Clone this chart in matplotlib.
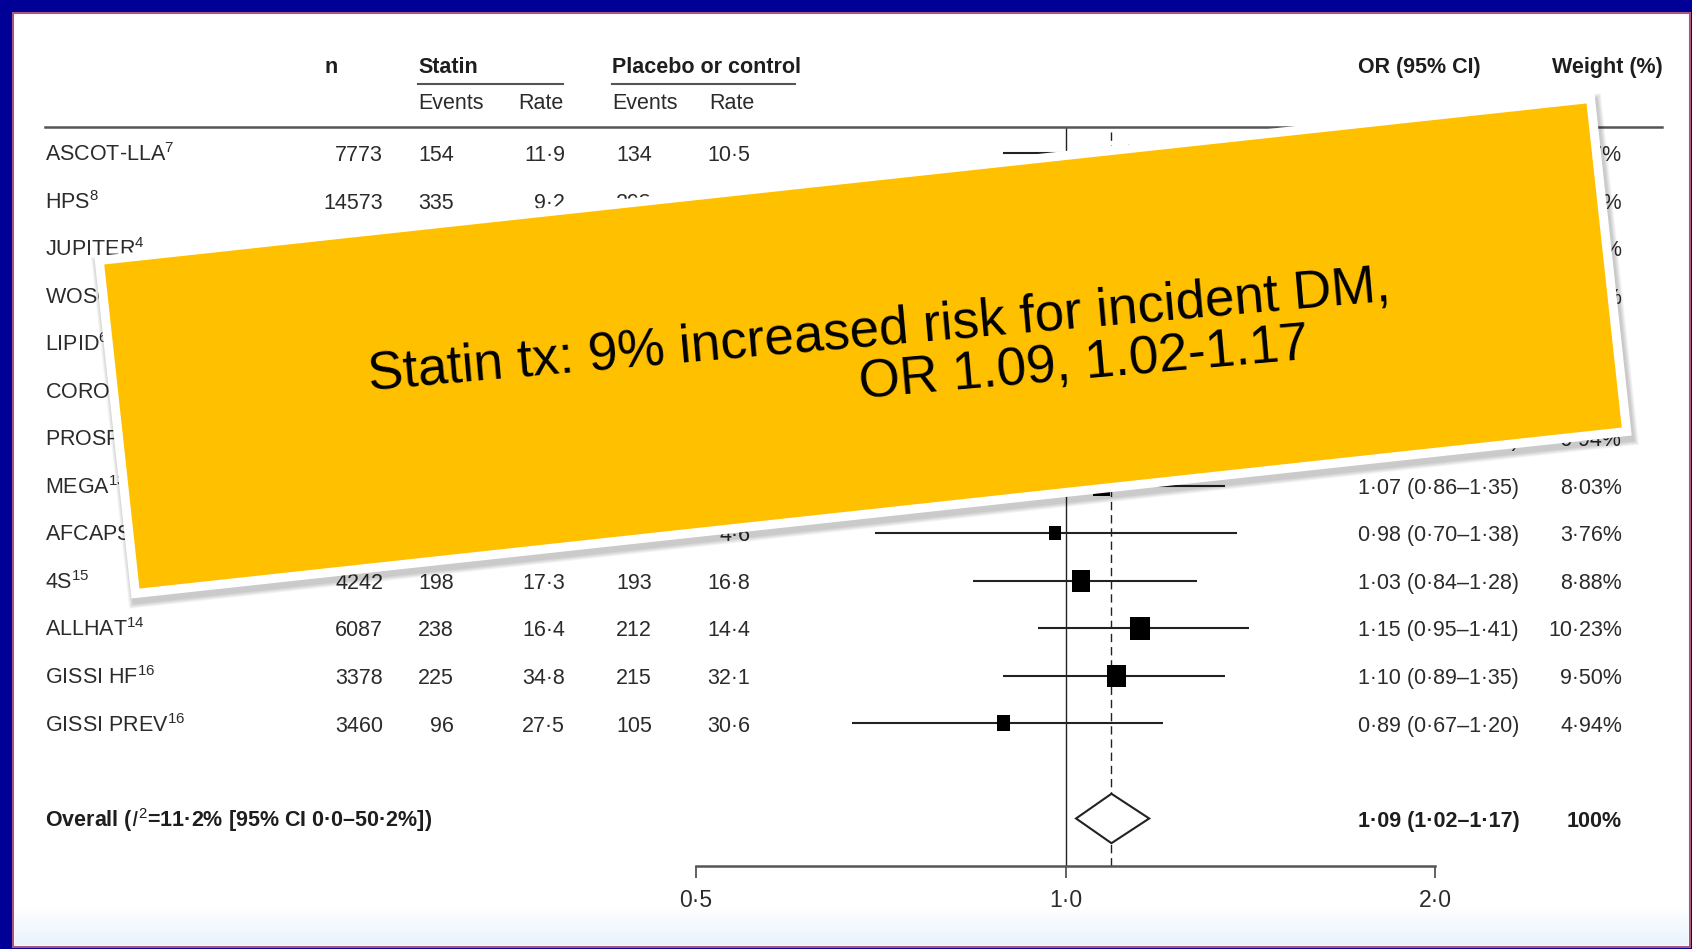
import numpy as np
import matplotlib
matplotlib.use("Agg")
import matplotlib.pyplot as plt
from matplotlib.patches import Rectangle, Polygon
from matplotlib import transforms

plt.rcParams['font.family'] = ['Liberation Sans', 'DejaVu Sans']
plt.rcParams['mathtext.fontset'] = 'custom'
plt.rcParams['mathtext.rm'] = 'Liberation Sans'
plt.rcParams['mathtext.it'] = 'Liberation Sans:italic'
plt.rcParams['mathtext.bf'] = 'Liberation Sans:bold'

# trial data
studies = ["ASCOT-LLA", "HPS", "JUPITER", "WOSCOPS", "LIPID", "CORONA", "PROSPER",
           "MEGA", "AFCAPS/TexCAPS", "4S", "ALLHAT", "GISSI HF", "GISSI PREV"]
refs = ["7", "8", "4", "5", "6", "9", "10", "13", "11", "15", "14", "16", "16"]
n_total = [7773, 14573, 17802, 5974, 6997, 3534, 5023, 6086, 6211, 4242, 6087, 3378, 3460]
statin_events = [154, 335, 270, 75, 126, 100, 165, 172, 72, 198, 238, 225, 96]
statin_rate = [11.9, 9.2, 16.0, 5.2, 7.9, 37.1, 20.5, 10.8, 4.5, 17.3, 16.4, 34.8, 27.5]
placebo_events = [134, 293, 216, 93, 138, 88, 127, 164, 74, 193, 212, 215, 105]
placebo_rate = [10.5, 8.0, 12.8, 6.5, 8.7, 33.0, 15.8, 10.1, 4.6, 16.8, 14.4, 32.1, 30.6]
odds_ratio = [1.14, 1.15, 1.26, 0.79, 0.91, 1.14, 1.32, 1.07, 0.98, 1.03, 1.15, 1.10, 0.89]
ci_low = [0.89, 0.98, 1.04, 0.58, 0.71, 0.84, 1.03, 0.86, 0.70, 0.84, 0.95, 0.89, 0.67]
ci_high = [1.46, 1.35, 1.51, 1.10, 1.17, 1.55, 1.69, 1.35, 1.38, 1.28, 1.41, 1.35, 1.20]
weights = [6.07, 14.33, 11.32, 4.36, 6.63, 5.01, 6.94, 8.03, 3.76, 8.88, 10.23, 9.50, 4.94]

overall_or, overall_lo, overall_hi = 1.09, 1.02, 1.17
i2, i2_lo, i2_hi = 11.2, 0.0, 50.2

x_ticks = [0.5, 1.0, 2.0]

W, H = 1692, 949
INK = '#2b2b2b'
FS = 15.5


def dot(v, nd):
    return f"{v:.{nd}f}".replace('.', '·')


fig = plt.figure(figsize=(W / 100, H / 100), dpi=100, facecolor='#000096')

# white slide panel
fig.add_artist(Rectangle((13 / W, 1 - 947 / H), (1690 - 13) / W, (947 - 13) / H,
                         transform=fig.transFigure, fc='white', ec='#a8577e',
                         lw=1.5, zorder=-5))

# forest axes: odds ratio on a log scale between the header rule and the x axis
ax = fig.add_axes([696 / W, 1 - 866 / H, (1435 - 696) / W, (866 - 127) / H], zorder=1)
ax.patch.set_visible(False)

# page axes in pixel units for headers and the callout banner
page = fig.add_axes([0, 0, 1, 1], zorder=3)
page.set_xlim(0, W)
page.set_ylim(H, 0)
page.axis('off')

rows = np.arange(len(studies))
overall_row = len(studies) + 1

ax.set_xscale('log')
ax.set_xlim(0.5, 2.0)
ax.set_ylim(overall_row + 1.0, -0.55)
for s in ['left', 'right', 'top']:
    ax.spines[s].set_visible(False)
ax.spines['bottom'].set_color('#555555')
ax.spines['bottom'].set_linewidth(1.8)
ax.set_yticks([])
ax.set_xticks(x_ticks)
ax.set_xticklabels([dot(t, 1) for t in x_ticks])
ax.xaxis.set_minor_locator(matplotlib.ticker.NullLocator())
ax.tick_params(axis='x', direction='out', length=8.5, width=1.3, color='#555555',
               pad=8, labelsize=FS + 1, labelcolor=INK)

ax.axvline(1.0, color='#222222', lw=1.0)
ax.axvline(overall_or, color='#222222', lw=1.0, ls=(0, (6, 3.5)))

# confidence intervals and weighted boxes
ax.hlines(rows, ci_low, ci_high, color='#222222', lw=1.5, zorder=3)
box = [(-0.42, -0.5), (0.42, -0.5), (0.42, 0.5), (-0.42, 0.5), (-0.42, -0.5)]
heights_pt = 5.2 * np.sqrt(weights)
ax.scatter(odds_ratio, rows, marker=box, s=heights_pt ** 2, color='black', zorder=4,
           linewidths=0)

# pooled estimate diamond
ax.add_patch(Polygon([(overall_lo, overall_row), (overall_or, overall_row - 0.52),
                      (overall_hi, overall_row), (overall_or, overall_row + 0.52)],
                     closed=True, fc='white', ec='#222222', lw=1.5, zorder=4))

# table columns: x in page pixels, y in forest rows
tx = transforms.blended_transform_factory(page.transData, ax.transData)
base = 0.17
for i in rows:
    kw = dict(transform=tx, va='baseline', fontsize=FS, color=INK, clip_on=False)
    ax.text(45, i + base, f"{studies[i]}$^{{{refs[i]}}}$", ha='left', **kw)
    ax.text(383, i + base, f"{n_total[i]}", ha='right', **kw)
    ax.text(454, i + base, f"{statin_events[i]}", ha='right', **kw)
    ax.text(565, i + base, dot(statin_rate[i], 1), ha='right', **kw)
    ax.text(652, i + base, f"{placebo_events[i]}", ha='right', **kw)
    ax.text(750, i + base, dot(placebo_rate[i], 1), ha='right', **kw)
    ax.text(1358, i + base,
            f"{dot(odds_ratio[i], 2)} ({dot(ci_low[i], 2)}–{dot(ci_high[i], 2)})",
            ha='left', **kw)
    ax.text(1622, i + base, f"{dot(weights[i], 2)}%", ha='right', **kw)

kw = dict(transform=tx, va='baseline', fontsize=FS, color='#1e1e1e', fontweight='bold',
          clip_on=False)
ax.text(45, overall_row + base,
        f"Overall ($I^2$={dot(i2, 1)}% [95% CI {dot(i2_lo, 1)}–{dot(i2_hi, 1)}%])",
        ha='left', **kw)
ax.text(1358, overall_row + base,
        f"{dot(overall_or, 2)} ({dot(overall_lo, 2)}–{dot(overall_hi, 2)})", ha='left', **kw)
ax.text(1622, overall_row + base, f"{sum(weights):.0f}%", ha='right', **kw)

# column headers
hk = dict(fontsize=FS, color='#1e1e1e', fontweight='bold', va='center', zorder=2)
page.text(331, 67, "n", ha='center', **hk)
page.text(418, 67, "Statin", ha='left', **hk)
page.text(612, 67, "Placebo or control", ha='left', **hk)
page.text(1358, 67, "OR (95% CI)", ha='left', **hk)
page.text(1552, 67, "Weight (%)", ha='left', **hk)
sk = dict(fontsize=FS, color=INK, va='center', zorder=2)
page.text(418, 103, "Events", ha='left', **sk)
page.text(518, 103, "Rate", ha='left', **sk)
page.text(612, 103, "Events", ha='left', **sk)
page.text(709, 103, "Rate", ha='left', **sk)
page.plot([418, 563], [84, 84], color='#555555', lw=1.5, zorder=2)
page.plot([612, 795], [84, 84], color='#555555', lw=1.5, zorder=2)
page.plot([45, 1662], [127, 127], color='#555555', lw=1.8, zorder=2)

# faint blue wash at the foot of the panel
wash = np.ones((40, 1, 4))
wash[:, 0, 0] = 0.91
wash[:, 0, 1] = 0.955
wash[:, 0, 2] = 0.99
wash[:, 0, 3] = np.linspace(0, 1, 40)
page.imshow(wash, extent=[15, 1688, 945, 905], aspect='auto', zorder=1)
page.set_xlim(0, W)
page.set_ylim(H, 0)

# callout banner with white frame and soft shadow
cx, cy, bw, bh, tilt = 863, 346, 1491, 326, 6.2
frame = 9
for k in range(1, 8):
    grow = 2 * frame + k * 1.4
    page.add_patch(Rectangle((cx + 2 - (bw + grow) / 2, cy + 5 - (bh + grow) / 2),
                             bw + grow, bh + grow, angle=-tilt, rotation_point='center',
                             fc='black', ec='none', alpha=0.03, zorder=10))
page.add_patch(Rectangle((cx - bw / 2 - frame, cy - bh / 2 - frame), bw + 2 * frame,
                         bh + 2 * frame, angle=-tilt, rotation_point='center',
                         fc='white', ec='none', zorder=11))
page.add_patch(Rectangle((cx - bw / 2, cy - bh / 2), bw, bh, angle=-tilt,
                         rotation_point='center', fc='#FFC000', ec='none', zorder=12))

pct = round((overall_or - 1) * 100)
bk = dict(fontsize=38.2, color='black', family=['Liberation Sans', 'DejaVu Sans'],
          rotation=5, rotation_mode='anchor', ha='left', va='baseline', zorder=13)
page.text(369, 390, f"Statin tx: {pct}% increased risk for incident DM,", **bk)
page.text(860, 398, f"OR {overall_or:.2f}, {overall_lo:.2f}-{overall_hi:.2f}", **bk)

fig.savefig("out.png", dpi=100, facecolor=fig.get_facecolor())
